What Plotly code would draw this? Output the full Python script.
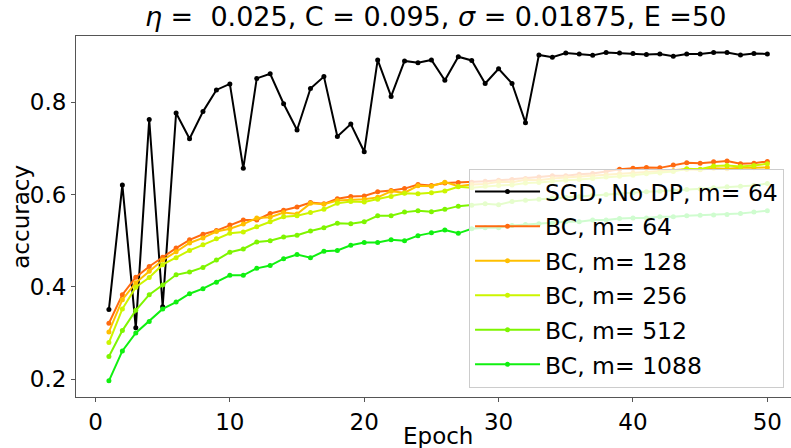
import plotly.graph_objects as go

epochs = list(range(1, 51))

sgd_m64 = [0.351, 0.621, 0.311, 0.763, 0.357, 0.777, 0.721, 0.780, 0.827, 0.840,
           0.657, 0.852, 0.862, 0.797, 0.740, 0.830, 0.856, 0.726, 0.753, 0.693,
           0.892, 0.813, 0.890, 0.886, 0.892, 0.848, 0.899, 0.891, 0.841, 0.873,
           0.841, 0.756, 0.903, 0.898, 0.907, 0.905, 0.902, 0.908, 0.907, 0.906,
           0.904, 0.905, 0.900, 0.905, 0.905, 0.908, 0.908, 0.903, 0.906, 0.905]

bc_m64 = [0.321, 0.383, 0.421, 0.444, 0.464, 0.484, 0.502, 0.514, 0.522, 0.534,
          0.545, 0.545, 0.559, 0.566, 0.573, 0.583, 0.580, 0.591, 0.596, 0.597,
          0.606, 0.609, 0.613, 0.622, 0.620, 0.625, 0.626, 0.627, 0.629, 0.631,
          0.633, 0.635, 0.638, 0.641, 0.641, 0.644, 0.646, 0.650, 0.655, 0.657,
          0.659, 0.658, 0.664, 0.669, 0.668, 0.671, 0.673, 0.667, 0.668, 0.672]

bc_m128 = [0.302, 0.372, 0.409, 0.434, 0.458, 0.476, 0.495, 0.506, 0.520, 0.526,
           0.536, 0.549, 0.551, 0.561, 0.558, 0.581, 0.579, 0.587, 0.589, 0.590,
           0.594, 0.607, 0.604, 0.619, 0.618, 0.627, 0.618, 0.622, 0.623, 0.628,
           0.627, 0.632, 0.631, 0.635, 0.637, 0.639, 0.640, 0.643, 0.645, 0.647,
           0.648, 0.650, 0.652, 0.655, 0.654, 0.657, 0.656, 0.658, 0.658, 0.659]

bc_m256 = [0.279, 0.352, 0.399, 0.420, 0.448, 0.463, 0.479, 0.491, 0.504, 0.516,
           0.519, 0.530, 0.541, 0.552, 0.554, 0.561, 0.568, 0.581, 0.585, 0.584,
           0.590, 0.596, 0.603, 0.602, 0.604, 0.608, 0.617, 0.615, 0.618, 0.620,
           0.621, 0.625, 0.626, 0.629, 0.631, 0.633, 0.635, 0.638, 0.640, 0.642,
           0.645, 0.647, 0.650, 0.656, 0.655, 0.662, 0.663, 0.661, 0.663, 0.667]

bc_m512 = [0.249, 0.305, 0.349, 0.383, 0.404, 0.426, 0.432, 0.442, 0.458, 0.475,
           0.482, 0.497, 0.500, 0.508, 0.512, 0.521, 0.528, 0.538, 0.537, 0.541,
           0.554, 0.554, 0.562, 0.565, 0.563, 0.568, 0.575, 0.577, 0.580, 0.578,
           0.585, 0.588, 0.590, 0.592, 0.594, 0.596, 0.599, 0.600, 0.603, 0.604,
           0.606, 0.607, 0.609, 0.611, 0.612, 0.615, 0.617, 0.618, 0.620, 0.624]

bc_m1088 = [0.196, 0.261, 0.300, 0.325, 0.352, 0.367, 0.385, 0.396, 0.410, 0.425,
            0.425, 0.440, 0.446, 0.461, 0.470, 0.463, 0.477, 0.479, 0.490, 0.496,
            0.496, 0.502, 0.500, 0.511, 0.517, 0.523, 0.516, 0.526, 0.528, 0.528,
            0.533, 0.535, 0.537, 0.538, 0.541, 0.541, 0.545, 0.545, 0.548, 0.549,
            0.549, 0.552, 0.552, 0.554, 0.555, 0.556, 0.557, 0.559, 0.562, 0.565]

series_names = ["SGD, No DP, m= 64", "BC, m= 64", "BC, m= 128",
                "BC, m= 256", "BC, m= 512", "BC, m= 1088"]
series_values = [sgd_m64, bc_m64, bc_m128, bc_m256, bc_m512, bc_m1088]
series_colors = ["#000000", "#ff6a10", "#ffbf00", "#ccf500", "#7ef500", "#10f010"]

x_ticks = [0, 10, 20, 30, 40, 50]
y_ticks = [0.2, 0.4, 0.6, 0.8]

FONT = "DejaVu Sans"

fig = go.Figure()
for i, (name, vals, col) in enumerate(zip(series_names, series_values, series_colors)):
    fig.add_trace(go.Scatter(
        x=epochs, y=vals, name=name, mode="lines+markers",
        line=dict(color=col, width=2),
        marker=dict(color=col, size=5),
        legendgroup=f"g{i}",
    ))

fig.update_layout(
    width=791, height=448,
    margin=dict(l=76, r=0, t=36, b=51, autoexpand=False),
    paper_bgcolor="white", plot_bgcolor="white",
    font=dict(family=FONT, size=23, color="black"),
    title=dict(
        text="<i>η</i> =  0.025, C = 0.095, <i>σ</i> = 0.01875, E =50",
        x=0.5507, xref="container", xanchor="center",
        y=0.962, yref="container", yanchor="middle",
        font=dict(family=FONT, size=27, color="black"),
    ),
    legend=dict(
        x=0.5497, y=0.632, xanchor="left", yanchor="top",
        bgcolor="rgba(255,255,255,0.8)", bordercolor="#cccccc", borderwidth=1,
        font=dict(family=FONT, size=23.5, color="black"),
        tracegroupgap=1, traceorder="grouped", itemwidth=65,
    ),
    showlegend=True,
    annotations=[
        dict(text="Epoch", x=0.5063, y=-0.066, xref="paper", yref="paper",
             xanchor="center", yanchor="top", showarrow=False,
             font=dict(family=FONT, size=23, color="black")),
        dict(text="accuracy", x=-0.078, y=0.5, xref="paper", yref="paper",
             xanchor="center", yanchor="middle", showarrow=False, textangle=-90,
             font=dict(family=FONT, size=23, color="black")),
    ],
)

fig.update_xaxes(
    range=[-1.45, 51.76], tickvals=x_ticks, ticktext=[str(t) for t in x_ticks],
    showgrid=False, zeroline=False, automargin=False,
    showline=True, linecolor="#555555", linewidth=1, mirror=True,
    ticks="outside", ticklen=4, tickcolor="#555555",
)
fig.update_yaxes(
    range=[0.161, 0.944], tickvals=y_ticks, ticktext=[f"{t:.1f}" for t in y_ticks],
    showgrid=False, zeroline=False, automargin=False,
    showline=True, linecolor="#555555", linewidth=1,
    ticks="outside", ticklen=4, tickcolor="#555555",
)

fig.write_html("out.html", config={"displayModeBar": False},
               post_script="document.body.style.margin='0';")
